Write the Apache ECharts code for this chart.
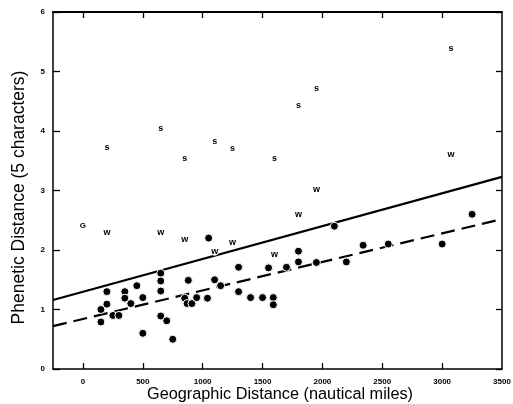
<!DOCTYPE html>
<html>
<head>
<meta charset="utf-8">
<script src="https://cdn.jsdelivr.net/npm/echarts@6/dist/echarts.min.js"></script>
<style>
  html, body { margin: 0; padding: 0; background: #fff; }
  #chart { width: 513px; height: 404px; }
</style>
</head>
<body>
<div id="chart"></div>
<script>
// filled dots
var dotX = [150, 150, 200, 200, 250, 300, 350, 350, 400, 450, 500, 500, 650, 650, 650, 650, 700, 750,
            850, 880, 870, 910, 950, 1040, 1050, 1100, 1150, 1300, 1300, 1400, 1500, 1590, 1590, 1550,
            1700, 1800, 1800, 1950, 2100, 2200, 2340, 2550, 3000, 3250];
var dotY = [1.0, 0.79, 1.3, 1.09, 0.9, 0.9, 1.3, 1.19, 1.1, 1.4, 1.2, 0.6, 1.61, 1.48, 1.31, 0.89, 0.81, 0.5,
            1.19, 1.49, 1.1, 1.1, 1.2, 1.19, 2.2, 1.5, 1.4, 1.71, 1.3, 1.2, 1.2, 1.2, 1.08, 1.7,
            1.71, 1.8, 1.98, 1.79, 2.4, 1.8, 2.08, 2.1, 2.1, 2.6];

// 's' points
var sX = [200, 650, 850, 1100, 1250, 1600, 1800, 1950, 3075];
var sY = [3.73, 4.05, 3.53, 3.83, 3.71, 3.53, 4.42, 4.72, 5.39];

// 'w' points
var wX = [200, 650, 850, 1100, 1250, 1600, 1800, 1950, 3075];
var wY = [2.3, 2.3, 2.18, 1.98, 2.13, 1.93, 2.6, 3.02, 3.61];

// 'G' point
var gX = [0];
var gY = [2.4];

// regression lines (ends at the axis limits)
var lineX = [-250, 3500];
var solidY = [1.16, 3.23];
var dashedY = [0.72, 2.52];

var xTicks = [0, 500, 1000, 1500, 2000, 2500, 3000];
var xLabels = [0, 500, 1000, 1500, 2000, 2500, 3000, 3500];

function pairs(xs, ys) {
    var out = [];
    for (var i = 0; i < xs.length; i++) {
        out.push([xs[i], ys[i]]);
    }
    return out;
}

function letterSeries(xs, ys, letter, size) {
    return {
        type: 'scatter',
        data: pairs(xs, ys),
        symbol: 'circle',
        symbolSize: 9,
        itemStyle: { color: '#fff', opacity: 1 },
        z: 4,
        label: {
            show: true,
            position: 'inside',
            formatter: letter,
            color: '#000',
            fontSize: size,
            fontWeight: 'bold',
            fontFamily: 'Liberation Sans'
        },
        emphasis: { disabled: true }
    };
}

var chart = echarts.init(document.getElementById('chart'));

var tickStyle = { show: true, inside: true, length: 6, lineStyle: { color: '#000', width: 1.3 } };

function plainNum(v) {
    return String(v);
}

var option = {
    animation: false,
    backgroundColor: '#fff',
    grid: { left: 53, right: 11, top: 12, bottom: 35, outerBoundsMode: 'none', containLabel: false },
    xAxis: [
        {
            type: 'value',
            position: 'bottom',
            min: -250,
            max: 3500,
            name: 'Geographic Distance (nautical miles)',
            nameLocation: 'middle',
            nameGap: 18,
            nameMoveOverlap: false,
            nameTextStyle: { fontSize: 16.3, color: '#000', fontFamily: 'Liberation Sans', padding: [0, 0, 0, 5] },
            axisLine: { show: true, onZero: false, lineStyle: { color: '#000', width: 1.5 } },
            axisTick: Object.assign({ customValues: xTicks }, tickStyle),
            axisLabel: {
                customValues: xLabels,
                formatter: plainNum,
                fontSize: 8,
                fontWeight: 'bold',
                color: '#000',
                margin: 9,
                fontFamily: 'Liberation Sans'
            },
            splitLine: { show: false }
        },
        {
            type: 'value',
            position: 'top',
            min: -250,
            max: 3500,
            axisLine: { show: true, onZero: false, lineStyle: { color: '#000', width: 2.2 } },
            axisTick: Object.assign({ customValues: xTicks }, tickStyle),
            axisLabel: { show: false },
            splitLine: { show: false }
        }
    ],
    yAxis: [
        {
            type: 'value',
            position: 'left',
            min: 0,
            max: 6,
            interval: 1,
            name: 'Phenetic Distance (5 characters)',
            nameLocation: 'middle',
            nameGap: 25,
            nameMoveOverlap: false,
            nameTextStyle: { fontSize: 17.5, color: '#000', fontFamily: 'Liberation Sans', padding: [0, 14, 0, 0] },
            axisLine: { show: true, onZero: false, lineStyle: { color: '#000', width: 1.5 } },
            axisTick: Object.assign({}, tickStyle, { length: 7 }),
            axisLabel: {
                fontSize: 8,
                fontWeight: 'bold',
                color: '#000',
                margin: 8,
                fontFamily: 'Liberation Sans'
            },
            splitLine: { show: false }
        },
        {
            type: 'value',
            position: 'right',
            min: 0,
            max: 6,
            interval: 1,
            axisLine: { show: true, onZero: false, lineStyle: { color: '#000', width: 1.5 } },
            axisTick: tickStyle,
            axisLabel: { show: false },
            splitLine: { show: false }
        }
    ],
    series: [
        {
            type: 'line',
            data: pairs(lineX, solidY),
            symbol: 'none',
            lineStyle: { color: '#000', width: 2.2 },
            z: 2,
            emphasis: { disabled: true }
        },
        {
            type: 'line',
            data: pairs(lineX, dashedY),
            symbol: 'none',
            lineStyle: { color: '#000', width: 2.2, type: [14, 7] },
            z: 2,
            emphasis: { disabled: true }
        },
        {
            type: 'scatter',
            data: pairs(dotX, dotY),
            symbol: 'circle',
            symbolSize: 8,
            itemStyle: { color: '#000', borderColor: '#fff', borderWidth: 1, opacity: 1 },
            z: 5,
            emphasis: { disabled: true }
        },
        letterSeries(sX, sY, 's', 9),
        letterSeries(wX, wY, 'w', 9),
        letterSeries(gX, gY, 'G', 8)
    ]
};

chart.setOption(option);
</script>
</body>
</html>
